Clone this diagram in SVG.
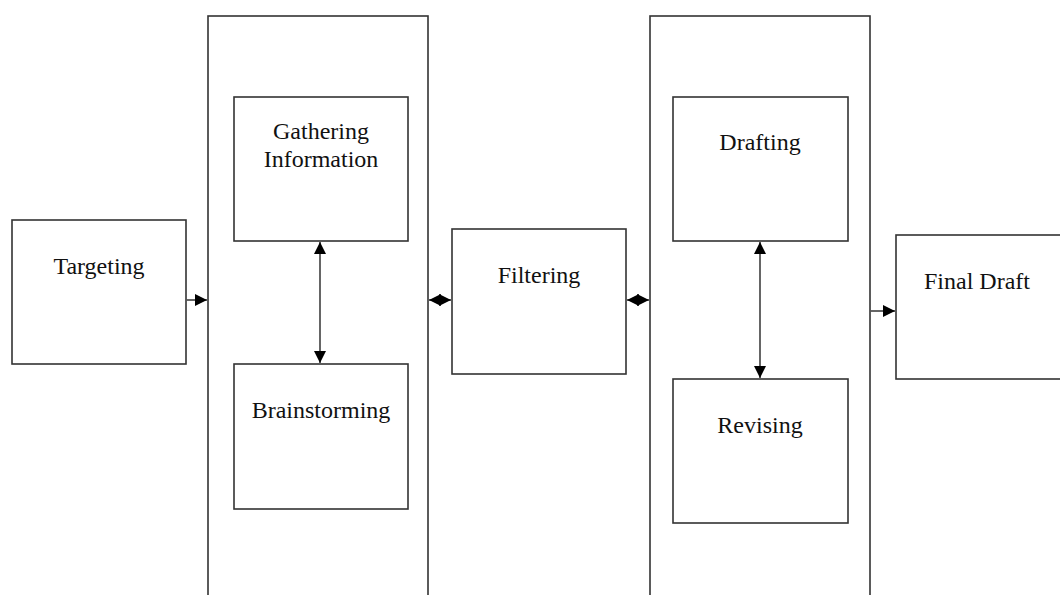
<svg xmlns="http://www.w3.org/2000/svg" width="1060" height="595" viewBox="0 0 1060 595">
<defs>
<style>
.box{fill:#fff;stroke:#333;stroke-width:1.6}
.lbl{font-family:"Liberation Serif","Times New Roman",serif;font-size:24px;fill:#111;text-anchor:middle}
.conn{stroke:#555;stroke-width:1.8;fill:none}
</style>
<marker id="ah" viewBox="0 0 10 10" refX="10" refY="5" markerWidth="12" markerHeight="12" markerUnits="userSpaceOnUse" orient="auto-start-reverse">
<path d="M0,0 L10,5 L0,10 z" fill="#000"/>
</marker>
</defs>
<rect width="1060" height="595" fill="#fff"/>
<g id="group1"><rect class="box" x="208" y="16" width="220" height="600"/></g>
<g id="group2"><rect class="box" x="650" y="16" width="220" height="600"/></g>
<g id="targeting"><rect class="box" x="12" y="220" width="174" height="144"/><text class="lbl" x="99" y="274">Targeting</text></g>
<g id="gathering"><rect class="box" x="234" y="97" width="174" height="144"/><text class="lbl" x="321" y="139">Gathering</text><text class="lbl" x="321" y="167">Information</text></g>
<g id="brainstorming"><rect class="box" x="234" y="364" width="174" height="145"/><text class="lbl" x="321" y="418">Brainstorming</text></g>
<g id="filtering"><rect class="box" x="452" y="229" width="174" height="145"/><text class="lbl" x="539" y="283">Filtering</text></g>
<g id="drafting"><rect class="box" x="673" y="97" width="175" height="144"/><text class="lbl" x="760" y="150">Drafting</text></g>
<g id="revising"><rect class="box" x="673" y="379" width="175" height="144"/><text class="lbl" x="760" y="433">Revising</text></g>
<g id="finaldraft"><rect class="box" x="896" y="235" width="170" height="144"/><text class="lbl" x="977" y="289">Final Draft</text></g>
<g id="connectors">
<line class="conn" x1="186" y1="300" x2="207" y2="300" marker-end="url(#ah)"/>
<line class="conn" x1="429" y1="300" x2="451" y2="300" marker-start="url(#ah)" marker-end="url(#ah)"/>
<line class="conn" x1="627" y1="300" x2="649" y2="300" marker-start="url(#ah)" marker-end="url(#ah)"/>
<line class="conn" x1="870" y1="311" x2="895" y2="311" marker-end="url(#ah)"/>
<line class="conn" x1="320" y1="242" x2="320" y2="363" marker-start="url(#ah)" marker-end="url(#ah)"/>
<line class="conn" x1="760" y1="242" x2="760" y2="378" marker-start="url(#ah)" marker-end="url(#ah)"/>
</g>
</svg>
